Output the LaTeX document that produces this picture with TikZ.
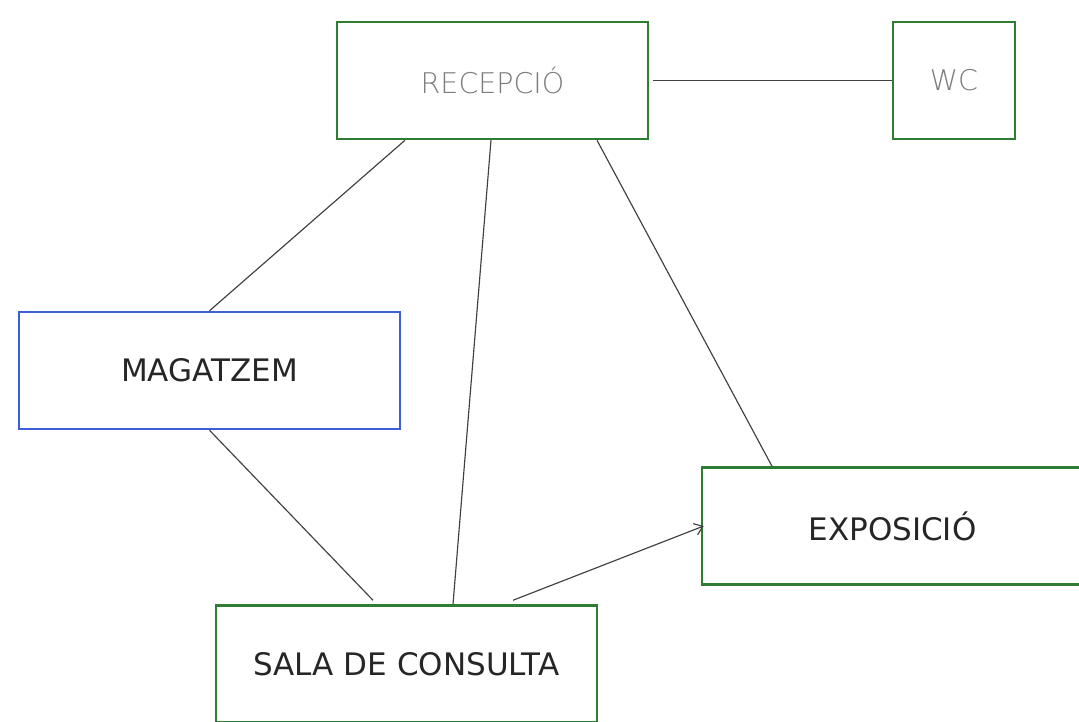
\documentclass[tikz,border=0pt]{standalone}
\usepackage{fontspec}
\setmainfont{DejaVu Sans}
\newfontfamily\thinfont{DejaVu Sans ExtraLight}
\usetikzlibrary{arrows.meta,calc}
\definecolor{boxgreen}{HTML}{2E7D32}
\definecolor{boxblue}{HTML}{3B5FD9}
\definecolor{txtgray}{HTML}{7C7C7C}
\definecolor{txtdark}{HTML}{262626}
\definecolor{linegray}{HTML}{404040}
\tikzset{
  room/.style={draw=boxgreen, line width=2.5pt, fill=white, inner sep=0pt, font=\fontsize{31}{36}\selectfont, text=txtdark},
  roomgray/.style={room, text=txtgray, font=\thinfont\fontsize{28.5}{34}\selectfont},
  roomblue/.style={room, draw=boxblue},
  link/.style={draw=linegray, line width=1.15pt},
}
\begin{document}
\begin{tikzpicture}[x=1pt,y=-1pt]
\useasboundingbox (0,0) rectangle (1079,721);
\clip (0,0) rectangle (1079,721);
\fill[white] (0,0) rectangle (1079,721);
\node[roomgray, minimum width=311pt, minimum height=117pt] (rec) at (492.5,80.5) {RECEPCIÓ};
\node[roomgray, minimum width=122pt, minimum height=117pt] (wc) at (954,80.5) {WC};
\node[roomblue, minimum width=381pt, minimum height=117pt] (mag) at (209.5,370.5) {MAGATZEM};
\node[room, minimum width=381pt, minimum height=117pt] (exp) at (892.5,526) {EXPOSICIÓ};
\node[room, minimum width=381pt, minimum height=117pt] (sala) at (406.5,664) {SALA DE CONSULTA};
\draw[link] ([xshift=4pt]rec.east) -- (wc.west);
\draw[link] ([xshift=-87.5pt]rec.south) -- (mag.north);
\draw[link] ([xshift=-1.5pt]rec.south) -- ([xshift=46.5pt]sala.north);
\draw[link] ([xshift=104.5pt]rec.south) -- ([xshift=-120.5pt]exp.north);
\draw[link] (mag.south) -- ([xshift=-33.5pt,yshift=4pt]sala.north);
\draw[link, -{Straight Barb[length=8pt,width=12pt,line width=1.15pt]}] ([xshift=106.5pt,yshift=4pt]sala.north) -- ([xshift=3pt]exp.west);
\end{tikzpicture}
\end{document}
